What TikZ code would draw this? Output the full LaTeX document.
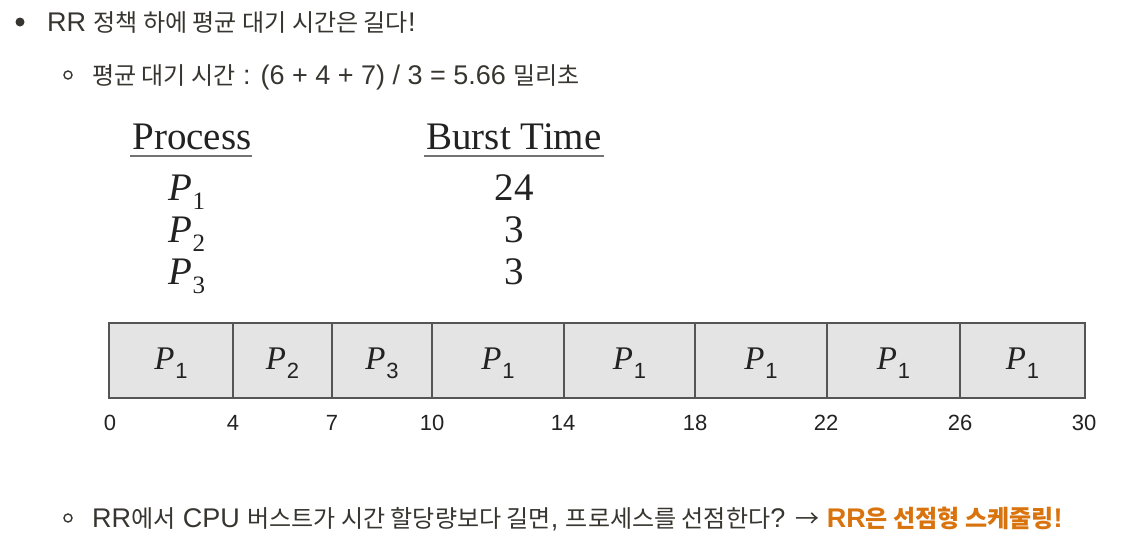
\documentclass[tikz,border=0pt]{standalone}
\usepackage{fontspec}
\setmainfont{Liberation Serif}
\setsansfont{Liberation Sans}
\newfontfamily\kr[Scale=0.89]{Noto Sans CJK KR}
\usepackage{xcolor}
\definecolor{ink}{HTML}{37352F}
\definecolor{accent}{HTML}{D9730D}
\definecolor{cellfill}{HTML}{E4E4E4}
\definecolor{cellline}{HTML}{555555}
\definecolor{tabink}{HTML}{222222}
\newcommand\K[1]{{\kr #1}}
\newcommand\tp[1]{{\itshape P}\kern0.5pt\raisebox{-9pt}{\fontsize{25}{25}\selectfont #1}}
\newcommand\gp[1]{{\fontsize{33}{33}\selectfont\itshape P}\kern1pt\raisebox{-9pt}{\sffamily\fontsize{22}{22}\selectfont #1}}
\begin{document}
\begin{tikzpicture}[x=1pt,y=-1pt,
  txtline/.style={font=\sffamily\fontsize{27}{30}\selectfont, text=ink, anchor=base west, inner sep=0pt},
  head/.style={font=\fontsize{39}{41}\selectfont, text=tabink, anchor=base, inner sep=0pt},
  tabval/.style={font=\fontsize{39}{41}\selectfont, text=tabink, anchor=base, inner sep=0pt},
  uline/.style={draw=black!55, line width=1.3pt},
  cell/.style={draw=cellline, fill=cellfill, line width=1.2pt, minimum height=75pt, inner sep=0pt, anchor=center},
  glabel/.style={text=tabink, inner sep=0pt},
  tick/.style={font=\sffamily\fontsize{22}{24}\selectfont, text=tabink, anchor=base, inner sep=0pt},
  dotfull/.style={circle, fill=ink, minimum size=9pt, inner sep=0pt},
  dothollow/.style={circle, draw=ink, line width=1.4pt, minimum size=8pt, inner sep=0pt}
]
\useasboundingbox (0,0) rectangle (1128,546);

% bullet lines
\node[dotfull] (b1) at (20,22) {};
\node[txtline] (l1) at (47,31.5) {RR \K{정책 하에 평균 대기 시간은 길다}!};
\node[dothollow] (b2) at (68,75) {};
\node[txtline] (l2) at (92,84.5) {\K{평균 대기 시간} : (6 + 4 + 7) / 3 = 5.66 \K{밀리초}};
\node[dothollow] (b3) at (68,518) {};
\node[txtline] (l3) at (92,527.5) {RR\K{에서} CPU \K{버스트가 시간 할당량보다 길면}, \K{프로세스를 선점한다}? \K{→} {\bfseries\color{accent}RR\K{은 선점형 스케줄링}!}};

% table
\node[head] (hproc) at (192,149) {Process};
\node[head] (hburst) at (514,149) {Burst Time};
\draw[uline] (130,156) -- (252,156);
\draw[uline] (424,156) -- (604,156);
\node[tabval, anchor=base west] (p1) at (168,200) {\tp{1}};
\node[tabval, anchor=base west] (p2) at (168,242) {\tp{2}};
\node[tabval, anchor=base west] (p3) at (168,284) {\tp{3}};
\node[tabval] (v1) at (514,200) {24};
\node[tabval] (v2) at (514,242) {3};
\node[tabval] (v3) at (514,284) {3};

% gantt chart
\node[cell, minimum width=124pt] (c1) at (171,360.5) {};
\node[cell, minimum width=99pt] (c2) at (282.5,360.5) {};
\node[cell, minimum width=100pt] (c3) at (382,360.5) {};
\node[cell, minimum width=132pt] (c4) at (498,360.5) {};
\node[cell, minimum width=131pt] (c5) at (629.5,360.5) {};
\node[cell, minimum width=132pt] (c6) at (761,360.5) {};
\node[cell, minimum width=133pt] (c7) at (893.5,360.5) {};
\node[cell, minimum width=125pt] (c8) at (1022.5,360.5) {};
\node[glabel] (g1) at ([yshift=-3pt]c1.center) {\gp{1}};
\node[glabel] (g2) at ([yshift=-3pt]c2.center) {\gp{2}};
\node[glabel] (g3) at ([yshift=-3pt]c3.center) {\gp{3}};
\node[glabel] (g4) at ([yshift=-3pt]c4.center) {\gp{1}};
\node[glabel] (g5) at ([yshift=-3pt]c5.center) {\gp{1}};
\node[glabel] (g6) at ([yshift=-3pt]c6.center) {\gp{1}};
\node[glabel] (g7) at ([yshift=-3pt]c7.center) {\gp{1}};
\node[glabel] (g8) at ([yshift=-3pt]c8.center) {\gp{1}};

\node[tick] (t0) at (110,430) {0};
\node[tick] (t4) at (233,430) {4};
\node[tick] (t7) at (332,430) {7};
\node[tick] (t10) at (432,430) {10};
\node[tick] (t14) at (563,430) {14};
\node[tick] (t18) at (695,430) {18};
\node[tick] (t22) at (826,430) {22};
\node[tick] (t26) at (960,430) {26};
\node[tick] (t30) at (1084,430) {30};
\end{tikzpicture}
\end{document}
